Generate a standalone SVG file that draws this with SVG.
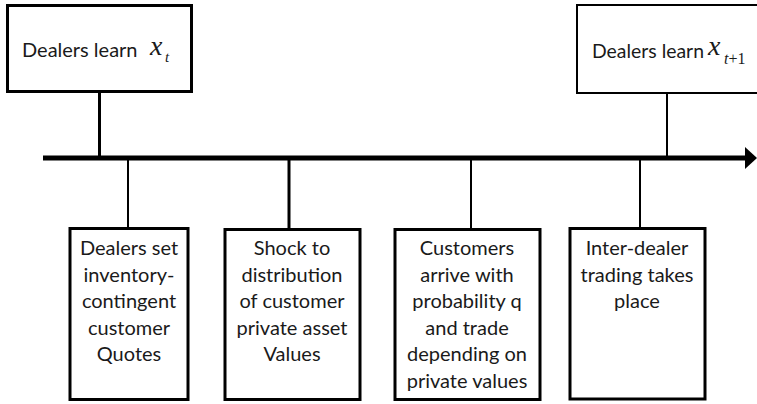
<svg xmlns="http://www.w3.org/2000/svg" width="757" height="404" viewBox="0 0 757 404">
<style>
.box{fill:#fff;stroke:#000;stroke-width:3}
.thin{stroke-width:2}
.t{font-family:Lato,"Liberation Sans",sans-serif;font-size:20px;fill:#1a1a1a;text-anchor:middle}
.tl{font-family:Lato,"Liberation Sans",sans-serif;font-size:20px;fill:#1a1a1a}
.m{font-family:"Liberation Serif",serif;font-style:italic;fill:#1a1a1a}
.u{font-style:normal}
.c{stroke:#000;fill:none}
</style>
<rect width="757" height="404" fill="#fff"/>
<g id="connectors">
<line class="c" x1="43" y1="158" x2="747" y2="158" stroke-width="5"/>
<polygon points="745,147 757,158 745,169" fill="#000"/>
<line class="c" x1="99.5" y1="91" x2="99.5" y2="158" stroke-width="3"/>
<line class="c" x1="667" y1="93" x2="667" y2="158" stroke-width="2"/>
<line class="c" x1="128" y1="158" x2="128" y2="228" stroke-width="2"/>
<line class="c" x1="289" y1="158" x2="289" y2="229" stroke-width="3"/>
<line class="c" x1="471" y1="158" x2="471" y2="229" stroke-width="2"/>
<line class="c" x1="640" y1="158" x2="640" y2="228" stroke-width="2"/>
</g>
<g id="top1">
<rect class="box" x="7.5" y="5.5" width="184" height="86"/>
<text class="tl" x="22" y="57">Dealers learn</text>
<text class="m" x="150" y="55" font-size="28">x</text>
<text class="m" x="165" y="62" font-size="15">t</text>
</g>
<g id="top2">
<rect class="box thin" x="577" y="5" width="190" height="88"/>
<text class="tl" x="592" y="58" textLength="112" lengthAdjust="spacingAndGlyphs">Dealers learn</text>
<text class="m" x="708" y="55" font-size="28">x</text>
<text class="m" x="724" y="64" font-size="16">t<tspan class="u">+1</tspan></text>
</g>
<g id="b1">
<rect class="box" x="70" y="228.5" width="118" height="171"/>
<text class="t" x="129" y="255">Dealers set</text>
<text class="t" x="129" y="281.5">inventory-</text>
<text class="t" x="129" y="308">contingent</text>
<text class="t" x="129" y="334.5">customer</text>
<text class="t" x="129" y="361">Quotes</text>
</g>
<g id="b2">
<rect class="box" x="225" y="229.5" width="135" height="170"/>
<text class="t" x="292" y="255">Shock to</text>
<text class="t" x="292" y="281.5">distribution</text>
<text class="t" x="292" y="308">of customer</text>
<text class="t" x="292" y="334.5">private asset</text>
<text class="t" x="292" y="361">Values</text>
</g>
<g id="b3">
<rect class="box" x="395" y="229.5" width="145" height="170"/>
<text class="t" x="467" y="255">Customers</text>
<text class="t" x="467" y="281.5">arrive with</text>
<text class="t" x="467" y="308">probability q</text>
<text class="t" x="467" y="334.5">and trade</text>
<text class="t" x="467" y="361">depending on</text>
<text class="t" x="467" y="387.5">private values</text>
</g>
<g id="b4">
<rect class="box" x="570" y="228.5" width="135" height="170.5"/>
<text class="t" x="637" y="255">Inter-dealer</text>
<text class="t" x="637" y="281.5">trading takes</text>
<text class="t" x="637" y="308">place</text>
</g>
</svg>
